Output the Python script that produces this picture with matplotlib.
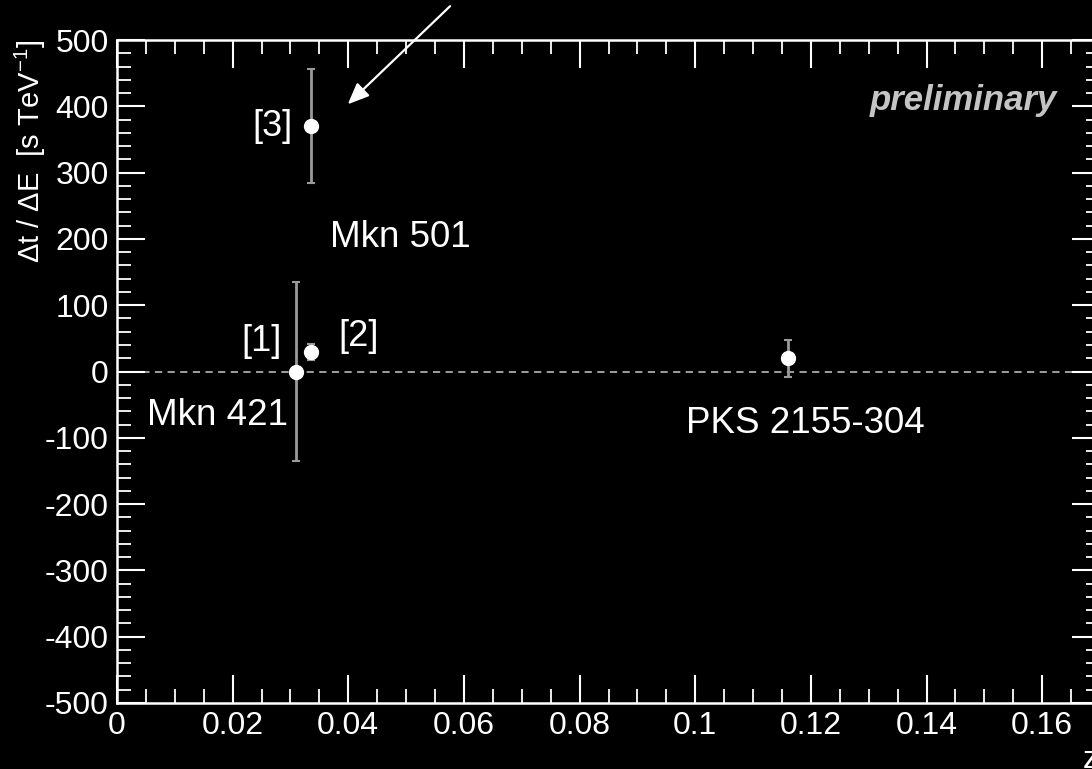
import numpy as np
import matplotlib.pyplot as plt
from matplotlib.ticker import MultipleLocator

plt.rcParams['font.family'] = ['Liberation Sans', 'DejaVu Sans']
plt.rcParams['mathtext.fontset'] = 'custom'
plt.rcParams['mathtext.rm'] = 'Liberation Sans'
plt.rcParams['axes.unicode_minus'] = False

# time lag per energy vs redshift for the three blazars
redshift = [0.031, 0.0336, 0.0336, 0.116]
lag = [0, 30, 370, 20]
lag_err = [135, 12, 86, 28]

ref_labels = ['[1]', '[2]', '[3]']
ref_pos = [(0.0285, 45), (0.0382, 53), (0.0303, 369)]
ref_ha = ['right', 'left', 'right']

source_names = ['Mkn 421', 'Mkn 501', 'PKS 2155-304']
source_pos = [(0.0052, -67), (0.0368, 202), (0.0984, -78)]

fig = plt.figure(figsize=(10.92, 7.69), dpi=100, facecolor='black')
ax = fig.add_axes([117 / 1092, 1 - 703 / 769, 983 / 1092, 663 / 769])
ax.set_facecolor('black')

ax.axhline(0, color='#aaaaaa', lw=1.3, ls=(0, (4, 3)), zorder=1)
ax.errorbar(redshift, lag, yerr=lag_err, fmt='o', color='white', ms=10,
            ecolor='#9a9a9a', elinewidth=2, capsize=3, capthick=1.5, zorder=3)

for txt, (x, y), ha in zip(ref_labels, ref_pos, ref_ha):
    ax.text(x, y, txt, color='white', fontsize=26, ha=ha, va='center')
for txt, (x, y) in zip(source_names, source_pos):
    ax.text(x, y, txt, color='white', fontsize=26.5, ha='left', va='center')

ax.text(0.1626, 408, 'preliminary', color='#c4c4c4', fontsize=25,
        fontweight='bold', fontstyle='italic', ha='right', va='center')

# pointer to the Mkn 501 flare point, starting above the frame
ax.annotate('', xy=(0.0399, 403), xytext=(0.0576, 551),
            xycoords='data', textcoords='data', annotation_clip=False,
            arrowprops=dict(arrowstyle='-|>,head_length=1.3,head_width=0.55',
                            color='white', lw=1.6, shrinkA=0, shrinkB=0))

ax.set_xlim(0, 0.17)
ax.set_ylim(-500, 500)
ax.set_xticks(np.arange(0, 0.161, 0.02))
ax.set_xticklabels(['0', '0.02', '0.04', '0.06', '0.08', '0.1', '0.12', '0.14', '0.16'])
ax.set_yticks(np.arange(-500, 501, 100))
ax.xaxis.set_minor_locator(MultipleLocator(0.005))
ax.yaxis.set_minor_locator(MultipleLocator(20))

ax.tick_params(which='both', direction='in', colors='white', top=True, right=True,
               labelsize=23, width=1.5)
ax.tick_params(which='major', length=20, pad=6)
ax.tick_params(which='minor', length=10, width=1.3)
for s in ax.spines.values():
    s.set_color('white')
    s.set_linewidth(1.8)

fig.text(30 / 1092, 1 - 40 / 769, r'$\Delta$t / $\Delta$E  [s TeV$^{-1}$]', color='white',
         fontsize=21, rotation=90, ha='center', va='top')
# axis title sits at the right end, partly beyond the frame
fig.text(1083 / 1092, 1 - 768 / 769, 'z', color='white', fontsize=23,
         ha='left', va='baseline')

fig.savefig('out.png', dpi=100, facecolor='black')
